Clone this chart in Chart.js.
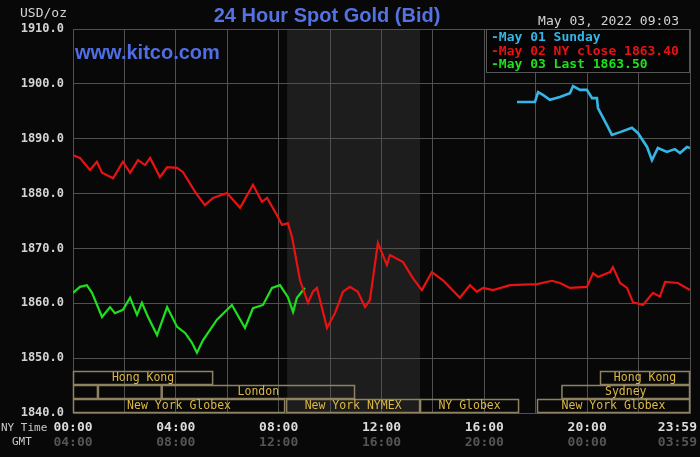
<!DOCTYPE html>
<html>
<head>
<meta charset="utf-8">
<script src="https://cdn.jsdelivr.net/npm/chart.js@4/dist/chart.umd.min.js"></script>
<style>
  html, body { margin: 0; padding: 0; background: #080808; }
  #wrap { width: 700px; height: 457px; }
</style>
</head>
<body>
<div id="wrap"><canvas id="gold" width="700" height="457"></canvas></div>
<script>
// hours since 00:00 NY time, and bid price
const sundayHours = [17.27, 17.97, 18.09, 18.28, 18.55, 18.94, 19.33, 19.45, 19.72, 19.99, 20.19, 20.38, 20.42, 20.81, 20.96, 21.28, 21.74, 21.98, 22.33, 22.52, 22.75, 23.10, 23.41, 23.61, 23.88, 24.00];
const sundayValues = [1896.7, 1896.7, 1898.5, 1898.0, 1897.1, 1897.6, 1898.3, 1899.6, 1898.9, 1898.9, 1897.4, 1897.4, 1895.6, 1892.1, 1890.7, 1891.2, 1892.0, 1891.0, 1888.5, 1886.1, 1888.3, 1887.6, 1888.1, 1887.4, 1888.5, 1888.3];

const mondayHours = [0.00, 0.27, 0.66, 0.93, 1.13, 1.56, 1.94, 2.22, 2.53, 2.80, 3.00, 3.38, 3.66, 4.05, 4.28, 4.75, 5.13, 5.45, 5.99, 6.50, 7.00, 7.35, 7.55, 7.93, 8.13, 8.36, 8.52, 8.83, 9.14, 9.33, 9.49, 9.88, 10.19, 10.50, 10.77, 11.08, 11.36, 11.55, 11.86, 12.21, 12.33, 12.84, 13.22, 13.57, 13.96, 14.39, 15.05, 15.44, 15.71, 15.95, 16.34, 17.00, 18.05, 18.63, 18.94, 19.33, 19.99, 20.23, 20.42, 20.89, 21.00, 21.28, 21.55, 21.78, 22.17, 22.56, 22.83, 23.03, 23.53, 24.00];
const mondayValues = [1887.0, 1886.5, 1884.3, 1885.8, 1883.8, 1882.8, 1885.8, 1883.8, 1886.1, 1885.2, 1886.5, 1883.0, 1884.8, 1884.7, 1883.9, 1880.3, 1877.9, 1879.2, 1880.1, 1877.4, 1881.6, 1878.5, 1879.2, 1876.1, 1874.3, 1874.6, 1872.1, 1864.2, 1860.1, 1862.1, 1862.8, 1855.5, 1858.2, 1862.1, 1863.0, 1862.1, 1859.3, 1860.6, 1871.0, 1867.0, 1868.8, 1867.5, 1864.6, 1862.4, 1865.7, 1864.2, 1861.0, 1863.3, 1862.1, 1862.8, 1862.4, 1863.3, 1863.5, 1864.1, 1863.7, 1862.8, 1863.0, 1865.5, 1864.8, 1865.7, 1866.6, 1863.7, 1862.8, 1860.2, 1859.7, 1861.9, 1861.2, 1863.9, 1863.7, 1862.4];

const tuesdayHours = [0.00, 0.27, 0.54, 0.74, 1.13, 1.44, 1.63, 1.94, 2.22, 2.49, 2.68, 2.92, 3.27, 3.66, 4.05, 4.36, 4.63, 4.82, 5.06, 5.60, 6.18, 6.69, 7.00, 7.39, 7.74, 8.05, 8.36, 8.56, 8.71, 9.02];
const tuesdayValues = [1861.9, 1863.0, 1863.3, 1861.9, 1857.5, 1859.3, 1858.2, 1858.8, 1861.0, 1857.9, 1860.1, 1857.5, 1854.2, 1859.3, 1855.7, 1854.6, 1852.8, 1851.0, 1853.3, 1857.0, 1859.7, 1855.5, 1859.1, 1859.7, 1862.8, 1863.3, 1861.1, 1858.4, 1861.0, 1862.8];

const legendLabels = ['May 01 Sunday', 'May 02 NY close 1863.40', 'May 03 Last 1863.50'];
const nyTickLabels = ['00:00', '04:00', '08:00', '12:00', '16:00', '20:00', '23:59'];
const gmtTickLabels = ['04:00', '08:00', '12:00', '16:00', '20:00', '00:00', '03:59'];
const tickHours = [0, 4, 8, 12, 16, 20, 24];
const nymexSession = [8.33, 13.5];

// trading sessions: [name, start hour, end hour, row (0 = top)]
const sessions = [
  ['Hong Kong', 0, 5.45, 0],
  ['Hong Kong', 20.5, 24, 0],
  ['', 0, 0.97, 1],
  ['', 0.97, 3.45, 1],
  ['London', 3.45, 10.97, 1],
  ['Sydney', 19.0, 24, 1],
  ['New York Globex', 0, 8.25, 2],
  ['New York NYMEX', 8.29, 13.5, 2],
  ['NY Globex', 13.5, 17.35, 2],
  ['New York Globex', 18.05, 24, 2]
];

const colors = ['#36b6e6', '#e81212', '#1ee01e'];
const MONO = '"DejaVu Sans Mono", "Liberation Mono", monospace';

function pts(h, v) { return h.map((x, i) => ({ x: x, y: v[i] })); }

const kitcoDecor = {
  id: 'kitcoDecor',
  beforeDraw(chart) {
    const c = chart.ctx, a = chart.chartArea, xs = chart.scales.x;
    c.save();
    c.fillStyle = '#080808';
    c.fillRect(0, 0, chart.width, chart.height);
    const x0 = xs.getPixelForValue(nymexSession[0]);
    const x1 = xs.getPixelForValue(nymexSession[1]);
    c.fillStyle = '#1c1d1c';
    c.fillRect(x0, a.top, x1 - x0, a.bottom - a.top);
    c.restore();
  },
  beforeDatasetsDraw(chart) {
    const c = chart.ctx, a = chart.chartArea, xs = chart.scales.x;
    const rowH = 14;
    c.save();
    c.strokeStyle = '#8e8262';
    c.lineWidth = 1.5;
    c.font = '11.5px ' + MONO;
    c.textAlign = 'center';
    c.textBaseline = 'middle';
    sessions.forEach(s => {
      const x0 = xs.getPixelForValue(s[1]);
      const x1 = xs.getPixelForValue(s[2]);
      const top = a.bottom - rowH * (3 - s[3]);
      c.strokeRect(x0 + 0.5, top + 0.5, x1 - x0 - 1, rowH - 1);
      if (s[0]) {
        c.fillStyle = '#dcb848';
        c.fillText(s[0], (x0 + x1) / 2, top + rowH / 2 + 0.5);
      }
    });
    c.restore();
  },
  afterDraw(chart) {
    const c = chart.ctx, a = chart.chartArea, xs = chart.scales.x;
    c.save();
    // title and site
    c.textBaseline = 'middle';
    c.textAlign = 'center';
    c.fillStyle = '#5572e2';
    c.font = 'bold 20px "Liberation Sans", Arial, sans-serif';
    c.fillText('24 Hour Spot Gold (Bid)', 327, 16);
    c.textAlign = 'left';
    c.fillStyle = '#4f6ee4';
    c.fillText('www.kitco.com', 75, 53);

    c.fillStyle = '#d4d4d4';
    c.font = '13px ' + MONO;
    c.fillText('USD/oz', 20, 14);
    c.textAlign = 'right';
    c.fillText('May 03, 2022 09:03', 679, 22);

    // legend box
    const lx = 486, ly = a.top, lw = a.right - lx, lh = 44;
    c.fillStyle = '#050505';
    c.fillRect(lx, ly, lw, lh);
    c.strokeStyle = '#575757';
    c.lineWidth = 1;
    c.strokeRect(lx + 0.5, ly + 0.5, lw - 1, lh - 1);
    c.textAlign = 'left';
    c.font = 'bold 13px ' + MONO;
    legendLabels.forEach((t, i) => {
      c.fillStyle = colors[i];
      c.fillText('-' + t, 491, ly + 8.5 + i * 13.7);
    });

    // time axis
    c.font = '11px ' + MONO;
    c.fillStyle = '#c8c8c8';
    c.textAlign = 'left';
    c.fillText('NY Time', 1, 428);
    c.fillText('GMT', 12, 442);
    c.font = 'bold 13px ' + MONO;
    tickHours.forEach((h, i) => {
      let x = xs.getPixelForValue(h);
      const w = c.measureText(nyTickLabels[i]).width;
      if (x + w / 2 > chart.width - 3) x = chart.width - 3 - w / 2;
      c.textAlign = 'center';
      c.fillStyle = '#dcdcdc';
      c.fillText(nyTickLabels[i], x, 428);
      c.fillStyle = '#555555';
      c.fillText(gmtTickLabels[i], x, 443);
    });
    c.restore();
  }
};

new Chart(document.getElementById('gold'), {
  type: 'line',
  data: {
    datasets: [
      { label: legendLabels[0], data: pts(sundayHours, sundayValues), borderColor: colors[0], borderWidth: 2.6 },
      { label: legendLabels[1], data: pts(mondayHours, mondayValues), borderColor: colors[1], borderWidth: 2.2 },
      { label: legendLabels[2], data: pts(tuesdayHours, tuesdayValues), borderColor: colors[2], borderWidth: 2.2 }
    ]
  },
  options: {
    responsive: false,
    animation: false,
    events: [],
    layout: { padding: { top: 29, right: 10, left: 0, bottom: 0 } },
    elements: { point: { radius: 0 }, line: { tension: 0 } },
    plugins: { legend: { display: false }, tooltip: { enabled: false }, title: { display: false } },
    scales: {
      x: {
        type: 'linear', min: 0, max: 24,
        ticks: { display: false, stepSize: 2 },
        grid: { color: '#505050', lineWidth: 1, drawTicks: false },
        border: { color: '#505050' },
        afterFit: s => { s.height = 44; }
      },
      y: {
        min: 1840, max: 1910,
        ticks: {
          stepSize: 10, padding: 9, color: '#d4d4d4',
          font: { family: MONO, size: 12, weight: 'bold' },
          callback: v => v.toFixed(1)
        },
        grid: { color: '#505050', lineWidth: 1, drawTicks: false },
        border: { color: '#505050' },
        afterFit: s => { s.width = 73; }
      }
    }
  },
  plugins: [kitcoDecor]
});
</script>
</body>
</html>
